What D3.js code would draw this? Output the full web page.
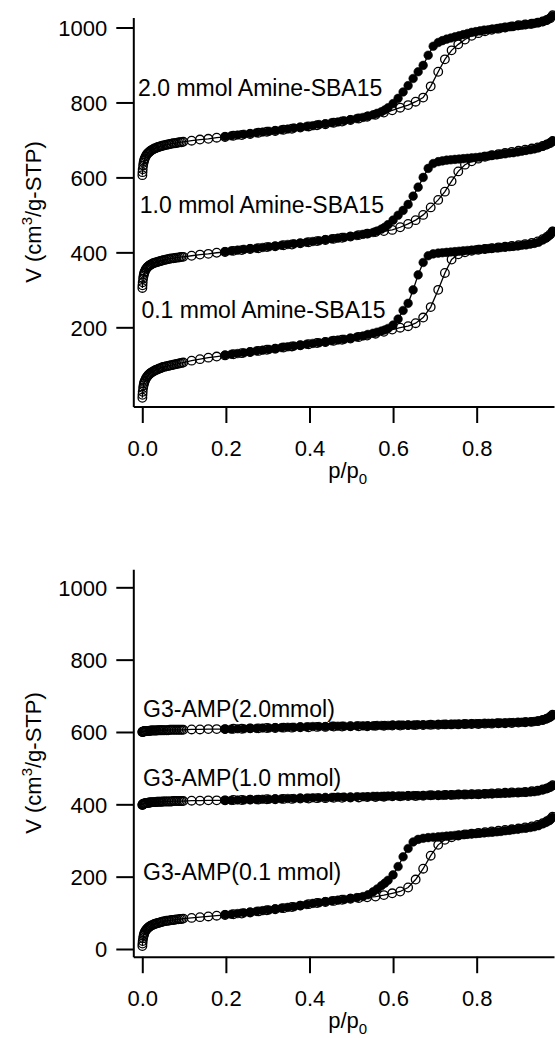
<!DOCTYPE html>
<html>
<head>
<meta charset="utf-8">
<script src="https://cdn.jsdelivr.net/npm/d3@7"></script>
<style>
  body { margin: 0; background: #fff; }
  svg { display: block; font-family: "Liberation Sans", Arial, sans-serif; }
</style>
</head>
<body>
<div id="vis"></div>
<script>
const WIDTH = 555;
const HEIGHT = 1038;

// relative pressure p/p0, adsorption branch (shared by every sample)
const P_ADS = [
  0.0002, 0.0005, 0.001, 0.002, 0.003, 0.004, 0.005, 0.006, 0.008, 0.010,
  0.012, 0.014, 0.016, 0.018, 0.020, 0.023, 0.026, 0.029, 0.032, 0.035,
  0.038, 0.041, 0.044, 0.047, 0.050, 0.054, 0.058, 0.062, 0.066, 0.070,
  0.074, 0.078, 0.082, 0.086, 0.090, 0.094, 0.098, 0.118, 0.138, 0.158,
  0.178, 0.198, 0.218, 0.238, 0.258, 0.278, 0.298, 0.318, 0.338, 0.358,
  0.378, 0.398, 0.418, 0.438, 0.458, 0.478, 0.498, 0.518, 0.538, 0.558,
  0.578, 0.598, 0.617, 0.636, 0.654, 0.672, 0.690, 0.708, 0.724, 0.740,
  0.756, 0.772, 0.788, 0.804, 0.820, 0.836, 0.852, 0.868, 0.884, 0.900,
  0.916, 0.932, 0.946, 0.958, 0.968, 0.976, 0.982
];

// relative pressure p/p0, desorption branch
const P_DES = [
  0.198, 0.213, 0.228, 0.243, 0.258, 0.273, 0.288, 0.303, 0.318, 0.333,
  0.348, 0.363, 0.378, 0.393, 0.408, 0.423, 0.438, 0.453, 0.468, 0.483,
  0.498, 0.513, 0.528, 0.540, 0.552, 0.562, 0.572, 0.580, 0.588, 0.600,
  0.612, 0.624, 0.636, 0.648, 0.660, 0.672, 0.684, 0.696, 0.708, 0.718,
  0.728, 0.738, 0.748, 0.758, 0.768, 0.778, 0.788, 0.798, 0.808, 0.818,
  0.828, 0.838, 0.848, 0.858, 0.868, 0.878, 0.888, 0.898, 0.908, 0.918,
  0.928, 0.938, 0.948, 0.958, 0.966, 0.974, 0.982
];

// V (cm3/g-STP), top panel: Amine-SBA15 (curves offset as plotted)
const AMINE_01_ADS = [
  12, 20, 28, 38, 45, 50, 54, 57, 62, 66,
  69, 72, 74, 76, 78, 80, 82, 84, 86, 87,
  89, 90, 91, 93, 94, 95, 96, 97, 98, 99,
  100, 101, 102, 103, 104, 105, 106, 111, 115, 119,
  122, 125, 128, 131, 134, 137, 140, 143, 146, 149,
  152, 155, 158, 161, 164, 167, 170, 174, 178, 183,
  188, 194, 199, 203, 211, 226, 254, 300, 345, 381,
  395, 400, 404, 407, 409, 411, 413, 415, 417, 419,
  422, 425, 429, 435, 441, 448, 456
];
const AMINE_01_DES = [
  126, 128, 130, 132, 134, 137, 139, 141, 143, 146,
  148, 150, 152, 155, 157, 159, 161, 164, 166, 168,
  171, 174, 177, 181, 184, 187, 190, 193, 197, 206,
  222, 245, 264, 300, 340, 373, 391, 396, 398, 399,
  400, 401, 402, 403, 404, 405, 406, 407, 408, 409,
  410, 411, 412, 413, 414, 415, 416, 417, 419, 420,
  422, 424, 427, 433, 438, 445, 456
];
const AMINE_10_ADS = [
  305, 312, 320, 330, 337, 342, 346, 349, 354, 357,
  360, 362, 364, 366, 367, 369, 371, 372, 373, 374,
  375, 376, 377, 378, 379, 380, 381, 382, 383, 384,
  384, 385, 386, 386, 387, 388, 388, 391, 394, 396,
  399, 401, 404, 406, 409, 411, 414, 416, 419, 421,
  424, 427, 430, 433, 436, 439, 442, 446, 450, 454,
  457, 460, 467, 476, 486, 500, 520, 540, 562, 590,
  616, 634, 643, 650, 655, 659, 662, 665, 668, 671,
  674, 677, 680, 684, 688, 692, 697
];
const AMINE_10_DES = [
  402, 404, 406, 408, 410, 411, 413, 415, 417, 419,
  421, 423, 425, 427, 429, 431, 434, 436, 438, 440,
  443, 445, 448, 450, 453, 457, 462, 467, 474, 486,
  499, 512, 528, 550, 574, 600, 624, 637, 642, 644,
  646, 647, 648, 649, 650, 651, 652, 653, 654, 656,
  657, 659, 660, 662, 663, 665, 666, 668, 670, 672,
  674, 676, 679, 683, 687, 691, 697
];
const AMINE_20_ADS = [
  606, 614, 622, 632, 639, 644, 648, 651, 656, 660,
  663, 665, 667, 669, 671, 673, 675, 677, 678, 680,
  681, 682, 683, 684, 685, 686, 687, 688, 689, 690,
  691, 691, 692, 693, 694, 694, 695, 698, 701, 703,
  706, 708, 711, 713, 716, 719, 722, 724, 727, 730,
  733, 736, 739, 742, 746, 749, 753, 757, 762, 767,
  773, 779, 786, 793, 802, 813, 843, 882, 915, 939,
  955, 968, 978, 985, 990, 994, 997, 1000, 1003, 1006,
  1008, 1010, 1013, 1016, 1020, 1025, 1033
];
const AMINE_20_DES = [
  709, 711, 713, 715, 717, 719, 721, 723, 725, 727,
  729, 732, 734, 736, 738, 741, 743, 746, 748, 751,
  754, 757, 760, 764, 767, 771, 775, 780, 786, 797,
  811, 828, 845, 864, 882, 899, 926, 950, 960, 965,
  969, 972, 975, 978, 981, 984, 987, 989, 991, 993,
  994, 996, 997, 999, 1000, 1002, 1003, 1005, 1006, 1008,
  1009, 1011, 1013, 1016, 1019, 1024, 1031
];

// V (cm3/g-STP), bottom panel: G3-AMP
const G3_01_ADS = [
  8, 15, 22, 30, 36, 40, 44, 47, 51, 54,
  57, 59, 61, 62, 64, 66, 67, 69, 70, 71,
  72, 73, 74, 75, 76, 77, 78, 78, 79, 80,
  80, 81, 82, 82, 83, 83, 84, 86, 88, 90,
  92, 94, 96, 98, 101, 104, 107, 110, 113, 116,
  120, 124, 127, 130, 133, 136, 139, 141, 143, 145,
  149, 154, 159, 170, 192, 222, 258, 288, 302, 309,
  314, 317, 319, 321, 323, 325, 327, 329, 331, 333,
  336, 339, 343, 348, 353, 359, 366
];
const G3_01_DES = [
  95, 96, 98, 100, 102, 104, 106, 108, 111, 113,
  115, 117, 120, 123, 126, 128, 131, 133, 135, 137,
  140, 142, 145, 150, 158, 166, 175, 182, 190, 205,
  228, 255, 278, 296, 303, 306, 308, 309, 310, 311,
  312, 313, 314, 315, 316, 317, 318, 319, 320, 321,
  322, 323, 324, 325, 327, 328, 330, 331, 333, 334,
  336, 338, 341, 346, 350, 355, 364
];
const G3_10_ADS = [
  398, 399, 400, 401, 401, 402, 402, 403, 403, 404,
  404, 404, 405, 405, 405, 406, 406, 406, 406, 407,
  407, 407, 407, 407, 408, 408, 408, 408, 408, 408,
  409, 409, 409, 409, 409, 409, 409, 410, 410, 411,
  411, 411, 412, 412, 413, 413, 414, 414, 415, 415,
  416, 416, 417, 417, 418, 418, 419, 419, 420, 420,
  421, 422, 422, 423, 423, 424, 425, 425, 426, 426,
  427, 427, 428, 428, 429, 430, 431, 432, 433, 433,
  434, 436, 438, 441, 444, 448, 453
];
const G3_10_DES = [
  411, 411, 412, 412, 413, 413, 414, 414, 415, 415,
  416, 416, 417, 417, 418, 418, 419, 419, 420, 420,
  420, 421, 421, 421, 422, 422, 422, 422, 423, 423,
  423, 423, 424, 424, 424, 424, 425, 425, 425, 425,
  426, 426, 426, 427, 427, 427, 428, 428, 428, 429,
  429, 429, 430, 430, 431, 431, 432, 432, 433, 433,
  434, 435, 437, 440, 443, 447, 452
];
const G3_20_ADS = [
  600, 600, 601, 601, 601, 602, 602, 602, 602, 603,
  603, 603, 603, 603, 604, 604, 604, 604, 604, 604,
  605, 605, 605, 605, 605, 605, 605, 605, 606, 606,
  606, 606, 606, 606, 606, 606, 606, 607, 607, 608,
  608, 608, 609, 609, 610, 610, 611, 611, 612, 612,
  613, 613, 614, 614, 615, 615, 616, 616, 616, 617,
  617, 618, 618, 619, 619, 619, 620, 620, 621, 621,
  621, 622, 622, 622, 623, 623, 624, 624, 625, 626,
  627, 628, 630, 633, 637, 642, 648
];
const G3_20_DES = [
  608, 608, 609, 609, 610, 610, 611, 611, 612, 612,
  613, 613, 614, 614, 615, 615, 615, 616, 616, 616,
  616, 617, 617, 617, 617, 618, 618, 618, 618, 619,
  619, 619, 619, 619, 620, 620, 620, 620, 621, 621,
  621, 621, 622, 622, 622, 622, 623, 623, 623, 624,
  624, 624, 625, 625, 625, 626, 626, 627, 627, 628,
  628, 629, 631, 633, 636, 640, 647
];

const X_TICKS = [0, 0.2, 0.4, 0.6, 0.8];
const Y_TICKS_TOP = [200, 400, 600, 800, 1000];
const Y_TICKS_BOTTOM = [0, 200, 400, 600, 800, 1000];

const LABELS_TOP = ["2.0 mmol Amine-SBA15", "1.0 mmol Amine-SBA15", "0.1 mmol Amine-SBA15"];
const LABELS_BOTTOM = ["G3-AMP(2.0mmol)", "G3-AMP(1.0 mmol)", "G3-AMP(0.1 mmol)"];

const FONT = 22;
const R = 4.3;

const svg = d3.select("#vis")
  .append("svg")
    .attr("width", WIDTH)
    .attr("height", HEIGHT);

const zip = (p, v) => p.map((d, i) => [d, v[i]]);

const panels = [
  {
    top: 17.5, bottom: 406.5, yDomain: [-11.3, 1026.7], yTicks: Y_TICKS_TOP,
    series: [
      {ads: zip(P_ADS, AMINE_20_ADS), des: zip(P_DES, AMINE_20_DES), label: LABELS_TOP[0], at: [-0.010, 818]},
      {ads: zip(P_ADS, AMINE_10_ADS), des: zip(P_DES, AMINE_10_DES), label: LABELS_TOP[1], at: [-0.006, 504]},
      {ads: zip(P_ADS, AMINE_01_ADS), des: zip(P_DES, AMINE_01_DES), label: LABELS_TOP[2], at: [-0.002, 224]}
    ]
  },
  {
    top: 569.3, bottom: 956.7, yDomain: [-21.3, 1049.8], yTicks: Y_TICKS_BOTTOM,
    series: [
      {ads: zip(P_ADS, G3_20_ADS), des: zip(P_DES, G3_20_DES), label: LABELS_BOTTOM[0], at: [0.002, 642]},
      {ads: zip(P_ADS, G3_10_ADS), des: zip(P_DES, G3_10_DES), label: LABELS_BOTTOM[1], at: [0.002, 450]},
      {ads: zip(P_ADS, G3_01_ADS), des: zip(P_DES, G3_01_DES), label: LABELS_BOTTOM[2], at: [0.002, 191]}
    ]
  }
];

const x = d3.scaleLinear()
  .domain([-0.0215, 0.985])
  .range([133.3, 554]);

panels.forEach(panel => {
  const y = d3.scaleLinear()
    .domain(panel.yDomain)
    .range([panel.bottom, panel.top]);

  const g = svg.append("g");

  // axes
  const yAxis = g.append("g")
    .attr("transform", "translate(" + x.range()[0] + ",0)")
    .call(d3.axisLeft(y)
      .tickValues(panel.yTicks)
      .tickFormat(d3.format("d"))
      .tickSize(17)
      .tickSizeOuter(0)
      .tickPadding(9));

  const xAxis = g.append("g")
    .attr("transform", "translate(0," + panel.bottom + ")")
    .call(d3.axisBottom(x)
      .tickValues(X_TICKS)
      .tickFormat(d3.format(".1f"))
      .tickSize(16.5)
      .tickSizeOuter(0)
      .tickPadding(17));

  [yAxis, xAxis].forEach(a => {
    a.attr("font-size", FONT).attr("font-family", null);
    a.selectAll("path, line").attr("stroke", "#000").attr("stroke-width", 2);
    a.selectAll("text").attr("fill", "#000");
  });
  yAxis.selectAll("text").attr("dy", "0.36em");

  // axis titles
  const midY = (panel.top + panel.bottom) / 2;
  const yTitle = g.append("text")
    .attr("transform", "translate(41," + midY + ") rotate(-90)")
    .attr("text-anchor", "middle")
    .attr("font-size", FONT);
  yTitle.append("tspan").text("V (cm");
  yTitle.append("tspan").attr("dy", -9).attr("font-size", 15).text("3");
  yTitle.append("tspan").attr("dy", 9).text("/g-STP)");

  const xTitle = g.append("text")
    .attr("x", (x.range()[0] + x.range()[1]) / 2 + 4)
    .attr("y", panel.bottom + 71.5)
    .attr("text-anchor", "middle")
    .attr("font-size", FONT);
  xTitle.append("tspan").text("p/p");
  xTitle.append("tspan").attr("dy", 6).attr("font-size", 15).text("0");

  // isotherms
  const line = d3.line()
    .x(d => x(d[0]))
    .y(d => y(d[1]));

  panel.series.forEach(s => {
    g.append("path").datum(s.des)
      .attr("d", line).attr("fill", "none").attr("stroke", "#000").attr("stroke-width", 1.3);
    g.append("path").datum(s.ads)
      .attr("d", line).attr("fill", "none").attr("stroke", "#000").attr("stroke-width", 1.3);

    g.append("g").selectAll("circle")
      .data(s.des)
      .enter()
      .append("circle")
        .attr("cx", d => x(d[0]))
        .attr("cy", d => y(d[1]))
        .attr("r", R)
        .attr("fill", "#000")
        .attr("stroke", "#000")
        .attr("stroke-width", 0.6);

    g.append("g").selectAll("circle")
      .data(s.ads)
      .enter()
      .append("circle")
        .attr("cx", d => x(d[0]))
        .attr("cy", d => y(d[1]))
        .attr("r", R)
        .attr("fill", "none")
        .attr("stroke", "#000")
        .attr("stroke-width", 1.3);

    g.append("text")
      .attr("x", x(s.at[0]))
      .attr("y", y(s.at[1]))
      .attr("font-size", 23)
      .text(s.label);
  });
});
</script>
</body>
</html>
